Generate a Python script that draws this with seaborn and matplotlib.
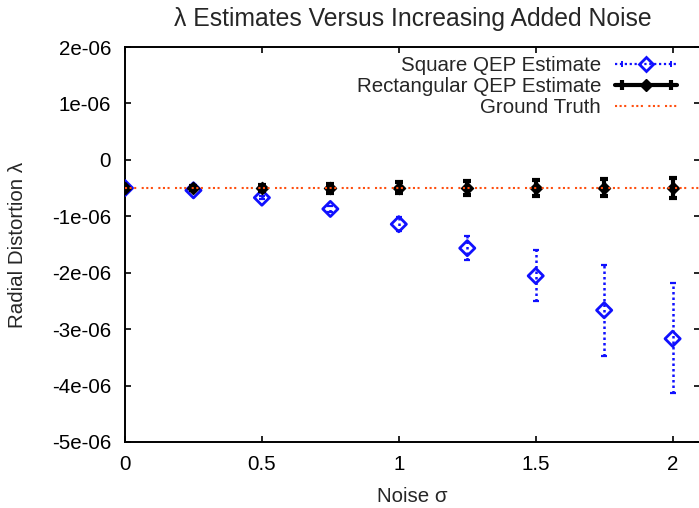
import numpy as np
import pandas as pd
import matplotlib
matplotlib.use("Agg")
import matplotlib.pyplot as plt
import seaborn as sns
from matplotlib.lines import Line2D
from matplotlib.legend_handler import HandlerLine2D, HandlerTuple
from matplotlib.ticker import MultipleLocator, FuncFormatter

# ---- data ----
noise = [0.0, 0.25, 0.5, 0.75, 1.0, 1.25, 1.5, 1.75, 2.0]
square_est = [-5.0e-7, -5.4e-7, -6.7e-7, -8.7e-7, -1.14e-6, -1.565e-6, -2.056e-6, -2.665e-6, -3.17e-6]
square_err_lo = [0.0, 0.02e-6, 0.03e-6, 0.05e-6, 0.12e-6, 0.21e-6, 0.45e-6, 0.81e-6, 0.965e-6]
square_err_hi = [0.0, 0.02e-6, 0.03e-6, 0.05e-6, 0.12e-6, 0.21e-6, 0.46e-6, 0.81e-6, 0.98e-6]
rect_est = [-5.0e-7, -5.0e-7, -5.0e-7, -5.0e-7, -4.9e-7, -5.0e-7, -5.0e-7, -4.95e-7, -5.0e-7]
rect_err = [0.0, 0.04e-6, 0.06e-6, 0.08e-6, 0.09e-6, 0.12e-6, 0.14e-6, 0.15e-6, 0.17e-6]
ground_truth = [-5.0e-7]

labels = ["Square QEP Estimate", "Rectangular QEP Estimate", "Ground Truth"]
title = "\u03bb Estimates Versus Increasing Added Noise"
xlabel = "Noise \u03c3"
ylabel = "Radial Distortion \u03bb"

df = pd.DataFrame({"noise": noise, "square": square_est, "rect": rect_est})

# ---- style ----
sns.set_theme(style="ticks")
plt.rcParams["font.family"] = ["Liberation Sans", "DejaVu Sans"]
plt.rcParams["axes.linewidth"] = 1.4
plt.rcParams["xtick.direction"] = "in"
plt.rcParams["ytick.direction"] = "in"
plt.rcParams["xtick.major.size"] = 4.5
plt.rcParams["ytick.major.size"] = 4.5
plt.rcParams["xtick.major.width"] = 1.2
plt.rcParams["ytick.major.width"] = 1.2

BLUE = "#1010ff"
ORANGE = "#ff5010"
FS = 14.8
DOT = (0, (1, 1.2))

fig = plt.figure(figsize=(6.99, 5.08), dpi=100)
ax = fig.add_axes([125 / 699, 1 - 442 / 508, 575 / 699, 395 / 508])

# Square QEP
eb1 = ax.errorbar(df["noise"], df["square"], yerr=[square_err_lo, square_err_hi],
                  fmt="none", ecolor=BLUE, elinewidth=1.8, capsize=2.5, capthick=1.6, zorder=2)
for lc in eb1[2]:
    lc.set_linestyle(DOT)
sns.scatterplot(data=df, x="noise", y="square", ax=ax, marker="D", s=60,
                facecolor="none", edgecolor=BLUE, linewidth=2.0, zorder=3, legend=False)

# Rectangular QEP
ax.errorbar(df["noise"], df["rect"], yerr=rect_err, fmt="none", ecolor="black",
            elinewidth=3.0, capsize=3.0, capthick=3.0, zorder=4)
sns.scatterplot(data=df, x="noise", y="rect", ax=ax, marker="D", s=38,
                color="black", edgecolor="black", linewidth=1.0, zorder=5, legend=False)

# Ground truth
ax.axhline(ground_truth[0], color=ORANGE, linewidth=1.5,
           linestyle=(0, (1, 1.2, 1, 1.2, 1, 2.6)), zorder=6)

ax.set_xlim(0, 2.1)
ax.set_ylim(-5e-6, 2e-6)
ax.xaxis.set_major_locator(MultipleLocator(0.5))
ax.yaxis.set_major_locator(MultipleLocator(1e-6))
fmt = FuncFormatter(lambda v, p: f"{round(v, 12) + 0.0:g}")
ax.xaxis.set_major_formatter(fmt)
ax.yaxis.set_major_formatter(fmt)
ax.tick_params(axis="both", which="both", top=True, right=True, labelsize=FS, colors="black")
ax.tick_params(axis="y", pad=10)
ax.tick_params(axis="x", pad=9)
ax.yaxis.offsetText.set_visible(False)
for s in ax.spines.values():
    s.set_color("black")

ax.set_title(title, fontsize=17.8, pad=15)
ax.set_xlabel(xlabel, fontsize=FS, labelpad=10)
ax.set_ylabel(ylabel, fontsize=FS, labelpad=18)

# legend (gnuplot-like: text then sample)
sq_line = Line2D([], [], color=BLUE, linewidth=1.6, linestyle=DOT,
                 marker="D", markersize=7, markerfacecolor="none", markeredgecolor=BLUE, markeredgewidth=2)
sq_caps = Line2D([], [], color=BLUE, linestyle="none", marker="|", markersize=5, markeredgewidth=1.4)
rc_line = Line2D([], [], color="black", linewidth=3, marker="D", markersize=6)
rc_caps = Line2D([], [], color="black", linestyle="none", marker="|", markersize=7, markeredgewidth=3)
gt_line = Line2D([], [], color=ORANGE, linewidth=1.5, linestyle=(0, (1, 1.2, 1, 1.2, 1, 2.6)))
hm = {sq_caps: HandlerLine2D(numpoints=2), rc_caps: HandlerLine2D(numpoints=2)}
leg = ax.legend([(sq_line, sq_caps), (rc_line, rc_caps), gt_line], labels,
                handler_map={tuple: HandlerTuple(ndivide=1, pad=0), **hm},
                loc="upper right", bbox_to_anchor=(677 / 699, 1 - 56 / 508),
                bbox_transform=fig.transFigure, frameon=False, markerfirst=False,
                fontsize=FS, handlelength=3.0, handletextpad=0.7, labelspacing=0.1,
                borderpad=0, borderaxespad=0, numpoints=1)

fig.savefig("out.png", dpi=100)
